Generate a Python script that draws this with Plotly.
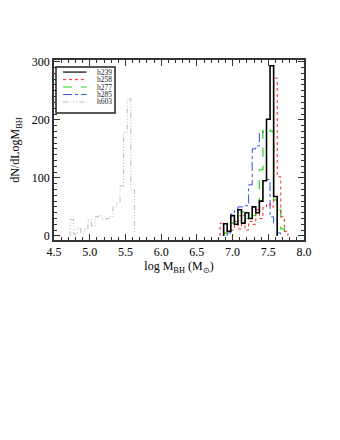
import plotly.graph_objects as go

# bin centres (log M_BH) and dN/dlogM values, bin width 0.05
bin_width = 0.05

h239_x = [6.90, 6.95, 7.00, 7.05, 7.10, 7.15, 7.20, 7.25, 7.30, 7.35, 7.40, 7.45, 7.50, 7.55, 7.60]
h239_y = [21, 8, 35, 20, 45, 22, 40, 30, 50, 40, 60, 95, 201, 293, 68]

h258_x = [6.85, 6.90, 6.95, 7.00, 7.05, 7.10, 7.15, 7.20, 7.25, 7.30, 7.35, 7.40, 7.45, 7.50, 7.55, 7.60, 7.65, 7.70, 7.75]
h258_y = [22, 5, 8, 10, 25, 12, 35, 10, 25, 20, 45, 30, 50, 55, 50, 272, 102, 33, 8]

h277_x = [6.90, 6.95, 7.00, 7.05, 7.10, 7.15, 7.20, 7.25, 7.30, 7.35, 7.40, 7.45, 7.50, 7.55, 7.60, 7.65, 7.70]
h277_y = [5, 15, 22, 25, 35, 42, 30, 45, 35, 50, 114, 183, 185, 180, 62, 45, 12]

h285_x = [6.95, 7.00, 7.05, 7.10, 7.15, 7.20, 7.25, 7.30, 7.35, 7.40, 7.45, 7.50, 7.55, 7.60, 7.65]
h285_y = [5, 38, 45, 50, 50, 52, 88, 150, 155, 178, 180, 97, 33, 22, 5]

h603_x = [4.75, 4.80, 4.85, 4.90, 4.95, 5.00, 5.05, 5.10, 5.15, 5.20, 5.25, 5.30, 5.35, 5.40, 5.45, 5.50, 5.55, 5.60]
h603_y = [28, 3, 14, 5, 12, 28, 17, 33, 35, 28, 30, 33, 50, 57, 86, 178, 236, 80]

names = ["h239", "h258", "h277", "h285", "h603"]
colors = ["#000000", "#ff2020", "#10e010", "#3050e0", "#b8b8b8"]
dashes = ["solid", "dot", "dash", "dashdot", "5px,2px,1px,2px,1px,2px,1px,2px"]
widths = [1.6, 1, 1.2, 1, 1]

x_ticks = [4.5, 5.0, 5.5, 6.0, 6.5, 7.0, 7.5, 8.0]
y_ticks = [0, 100, 200, 300]

series = [(h239_x, h239_y), (h258_x, h258_y), (h277_x, h277_y), (h285_x, h285_y), (h603_x, h603_y)]

def step_outline(xc, yc, w):
    xs, ys = [], []
    xs.append(xc[0] - w / 2); ys.append(0)
    for c, v in zip(xc, yc):
        xs += [c - w / 2, c + w / 2]
        ys += [v, v]
    xs.append(xc[-1] + w / 2); ys.append(0)
    return xs, ys

fig = go.Figure()
# draw in reverse so black is on top
for i in reversed(range(len(series))):
    xc, yc = series[i]
    xs, ys = step_outline(xc, yc, bin_width)
    fig.add_trace(go.Scatter(x=xs, y=ys, mode="lines", name=names[i],
                             line=dict(color=colors[i], dash=dashes[i], width=widths[i]),
                             showlegend=False))

font = "Liberation Serif"

# legend drawn by hand (IDL style)
shapes = [dict(type="rect", xref="paper", yref="paper", x0=0.008, x1=0.244, y0=0.706, y1=0.961,
               line=dict(color="#222", width=1.5), fillcolor="white", layer="above")]
annotations = []
ys_leg = [0.933, 0.891, 0.850, 0.808, 0.767]
for i in range(5):
    shapes.append(dict(type="line", xref="paper", yref="paper", x0=0.036, x1=0.13,
                       y0=ys_leg[i], y1=ys_leg[i],
                       line=dict(color=colors[i], dash=dashes[i], width=1 if i else 1.2), layer="above"))
    annotations.append(dict(xref="paper", yref="paper", x=0.165, y=ys_leg[i], text=names[i],
                            showarrow=False, xanchor="left", yanchor="middle",
                            font=dict(family=font, size=7.5, color="#222")))

fig.update_layout(
    width=340, height=440,
    margin=dict(l=46, r=44, t=52, b=208),
    paper_bgcolor="white", plot_bgcolor="white",
    font=dict(family=font, size=12, color="black"),
    shapes=shapes, annotations=annotations,
    showlegend=False,
)
fig.update_xaxes(range=[4.5, 8.0], tickvals=x_ticks, ticktext=[f"{v:.1f}" for v in x_ticks],
                 ticks="inside", ticklen=6, tickwidth=1, tickcolor="#333",
                 minor=dict(dtick=0.1, ticks="inside", ticklen=3, tickcolor="#333"),
                 showline=True, linecolor="#333", linewidth=1.5, mirror="allticks",
                 showgrid=False, zeroline=False, automargin=False,
                 title=dict(text="log M<sub>BH</sub> (M<sub>⊙</sub>)", font=dict(family=font, size=12), standoff=3),
                 tickfont=dict(family=font, size=12))
fig.update_yaxes(range=[-7, 303], tickvals=y_ticks,
                 ticks="inside", ticklen=6, tickwidth=1, tickcolor="#333",
                 minor=dict(dtick=10, ticks="inside", ticklen=3, tickcolor="#333"),
                 showline=True, linecolor="#333", linewidth=1.5, mirror="allticks",
                 showgrid=False, zeroline=False, automargin=False,
                 title=dict(text="dN/dLogM<sub>BH</sub>", font=dict(family=font, size=12), standoff=18),
                 tickfont=dict(family=font, size=12))

fig.write_html("out.html")
